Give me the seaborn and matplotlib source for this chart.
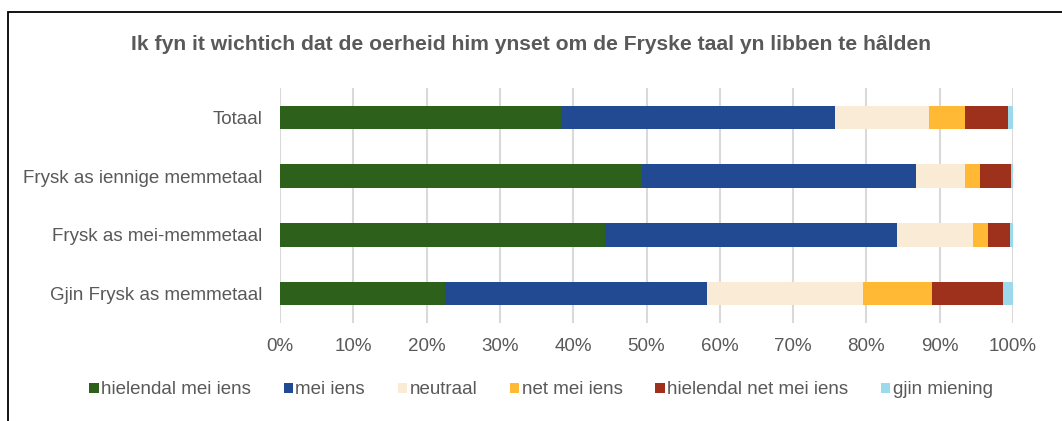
import numpy as np
import pandas as pd
import matplotlib
matplotlib.use("Agg")
import matplotlib.pyplot as plt
import seaborn as sns
from matplotlib.patches import Patch, Rectangle

categories = ["Totaal", "Frysk as iennige memmetaal", "Frysk as mei-memmetaal", "Gjin Frysk as memmetaal"]
series_names = ["hielendal mei iens", "mei iens", "neutraal", "net mei iens", "hielendal net mei iens", "gjin miening"]
hielendal_mei_iens = [38.4, 49.4, 44.4, 22.5]
mei_iens = [37.3, 37.3, 39.8, 35.8]
neutraal = [12.9, 6.8, 10.3, 21.2]
net_mei_iens = [4.8, 2.0, 2.1, 9.5]
hielendal_net_mei_iens = [5.9, 4.2, 3.0, 9.7]
gjin_miening = [0.7, 0.3, 0.4, 1.3]
tick_labels = ["0%", "10%", "20%", "30%", "40%", "50%", "60%", "70%", "80%", "90%", "100%"]
title = "Ik fyn it wichtich dat de oerheid him ynset om de Fryske taal yn libben te hâlden"

colors = ["#2D611B", "#224A93", "#FAEBD7", "#FFB935", "#9E311B", "#9CD9EA"]

sns.set_theme(style="white")
plt.rcParams["font.family"] = ["Liberation Sans", "DejaVu Sans"]
text_color = "#595959"
fs = 13.5

values = [hielendal_mei_iens, mei_iens, neutraal, net_mei_iens, hielendal_net_mei_iens, gjin_miening]
arr = np.array(values)
cum = np.cumsum(arr, axis=0)

fig = plt.figure(figsize=(10.62, 4.21), dpi=100)
W, H = 1062, 421
ax = fig.add_axes([280 / W, 1 - 323 / H, (1013 - 280) / W, (323 - 88) / H])

for i in range(len(series_names) - 1, -1, -1):
    df = pd.DataFrame({"category": categories, "value": cum[i]})
    sns.barplot(data=df, y="category", x="value", orient="h", color=colors[i],
                width=0.4, ax=ax, saturation=1, edgecolor="none", zorder=3)

ax.set_xlim(0, 100)
ax.set_xticks(np.arange(0, 101, 10))
ax.set_xticklabels(tick_labels, color=text_color, fontsize=fs)
ax.tick_params(axis="y", labelsize=fs, colors=text_color, length=0, pad=12.5)
ax.tick_params(axis="x", length=0, pad=11)
ax.set_xlabel("")
ax.set_ylabel("")
ax.xaxis.grid(True, color="#D9D9D9", linewidth=1.5, zorder=0)
ax.set_axisbelow(True)
for s in ax.spines.values():
    s.set_visible(False)
ax.set_ylim(3.5, -0.5)

fig.text(531 / W, 1 - 44 / H, title, ha="center", va="center", fontsize=15.2,
         fontweight="bold", color=text_color)

handles = [Patch(facecolor=c, edgecolor="none") for c in colors]
fig.legend(handles, series_names, loc="center", bbox_to_anchor=(541 / W, 1 - 390 / H),
           ncol=6, frameon=False, fontsize=fs, handlelength=0.5, handleheight=0.5,
           handletextpad=0.12, columnspacing=1.75, labelcolor=text_color)

fig.patches.append(Rectangle((8 / W, -0.1), 1.2, 1 - 12 / H + 0.1, transform=fig.transFigure,
                             fill=False, edgecolor="black", linewidth=1.3))

fig.savefig("out.png", dpi=100)
